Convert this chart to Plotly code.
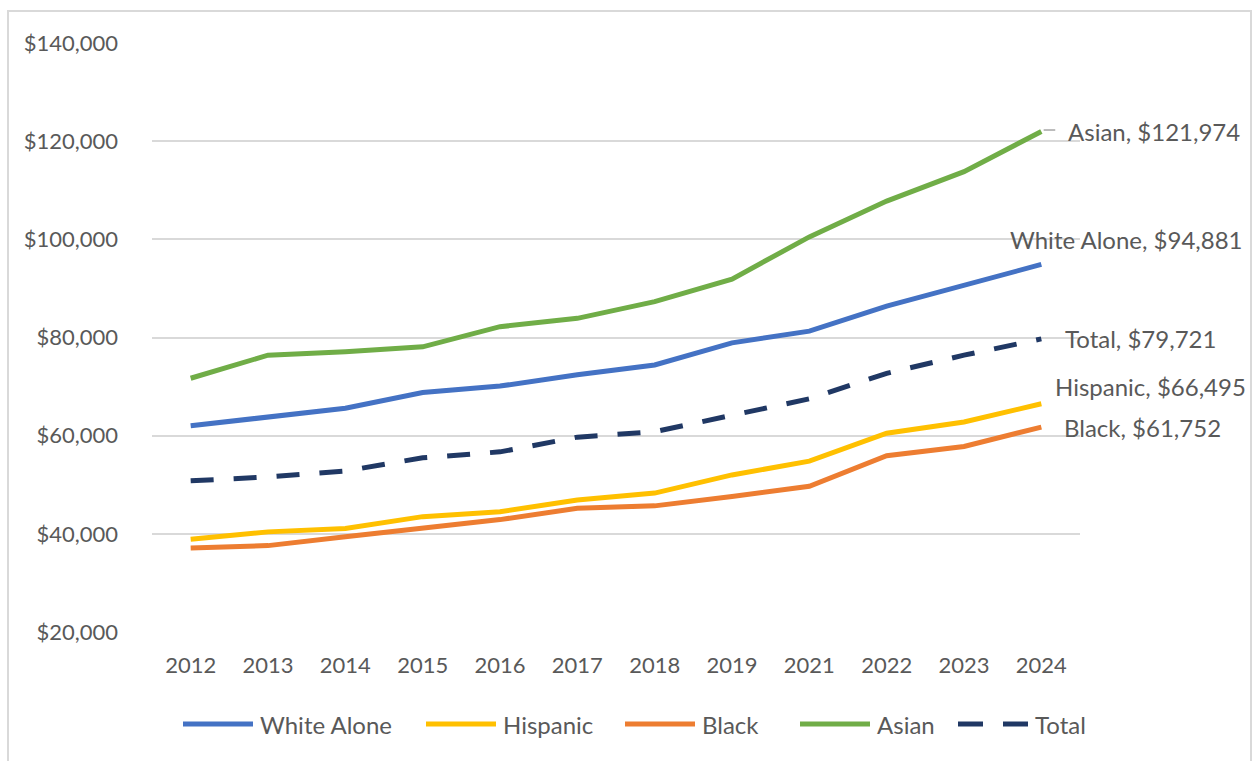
import plotly.graph_objects as go

# Median household income by race/ethnicity, 2012-2024 (no 2020 release)
years = ["2012", "2013", "2014", "2015", "2016", "2017", "2018", "2019",
         "2021", "2022", "2023", "2024"]

white_alone = [62000, 63700, 65600, 68800, 70100, 72400, 74400, 78900,
               81300, 86400, 90700, 94881]
hispanic = [38900, 40400, 41100, 43500, 44500, 46900, 48300, 52000,
            54800, 60500, 62800, 66495]
black = [37100, 37600, 39400, 41100, 42900, 45200, 45700, 47600,
         49700, 55900, 57800, 61752]
asian = [71700, 76400, 77100, 78100, 82200, 83900, 87300, 91900,
         100500, 107800, 113800, 121974]
total = [50800, 51600, 52800, 55500, 56700, 59700, 60800, 64200,
         67500, 72700, 76400, 79721]

series_names = ["White Alone", "Hispanic", "Black", "Asian", "Total"]
series_values = [white_alone, hispanic, black, asian, total]

y_ticks = [20000, 40000, 60000, 80000, 100000, 120000, 140000]

colors = {
    "White Alone": "#4472C4",
    "Hispanic": "#FFC000",
    "Black": "#ED7D31",
    "Asian": "#70AD47",
    "Total": "#203864",
}
dashes = {"Total": "23px,20px"}
legend_dashes = {"Total": "25px,20px"}

FONT = "Lato, 'Open Sans', sans-serif"
TEXT = "#595959"
FS = 22
FS_LABEL = 24

# plot area in pixels
W, H = 1253, 761
L, R, T, B = 152, 173, 43, 129
PW, PH = W - L - R, H - T - B


def px_x(px):
    return (px - L) / PW


def px_y(py):
    return (H - B - py) / PH


fig = go.Figure()
for name, vals in zip(series_names, series_values):
    fig.add_trace(go.Scatter(
        x=years, y=vals, mode="lines", name=name,
        line=dict(color=colors[name], width=5, dash=dashes.get(name, "solid")),
        showlegend=False,
    ))

# end-of-line labels: (xshift, yshift) relative to the last point
label_offsets = {
    "Asian": (25, 0),
    "White Alone": (-33, 25),
    "Total": (22, 0),
    "Hispanic": (12, 17),
    "Black": (21, 0),
}
last_idx = len(years) - 1
annotations = []
for name, vals in zip(series_names, series_values):
    last = vals[-1]
    dx, dy = label_offsets[name]
    annotations.append(dict(
        x=last_idx, y=last, xref="x", yref="y",
        text=f"{name}, ${last:,.0f}",
        xanchor="left", yanchor="middle", xshift=dx, yshift=dy,
        showarrow=False, font=dict(family=FONT, size=FS_LABEL, color=TEXT),
    ))

shapes = []
# short leader line for the Asian label
shapes.append(dict(
    type="line", xref="x", yref="y",
    x0=last_idx + 0.03, x1=last_idx + 0.18,
    y0=asian[-1] + 300, y1=asian[-1] + 300,
    line=dict(color="#A6A6A6", width=1.5),
))

# legend drawn below the axis
legend_starts = [183, 426, 625, 800, 958]
legend_y = 724
seg = 70
for name, sx in zip(series_names, legend_starts):
    shapes.append(dict(
        type="line", xref="paper", yref="paper",
        x0=px_x(sx), x1=px_x(sx + seg), y0=px_y(legend_y), y1=px_y(legend_y),
        line=dict(color=colors[name], width=5,
                  dash=legend_dashes.get(name, "solid")),
    ))
    annotations.append(dict(
        x=px_x(sx + seg + 5), y=px_y(legend_y), xref="paper", yref="paper",
        text=name, xanchor="left", yanchor="middle", showarrow=False,
        font=dict(family=FONT, size=FS_LABEL, color=TEXT),
    ))

# outer chart border
shapes.append(dict(
    type="rect", xref="paper", yref="paper",
    x0=px_x(8), x1=px_x(1251), y0=px_y(762), y1=px_y(11),
    line=dict(color="#D9D9D9", width=2), fillcolor="rgba(0,0,0,0)",
    layer="below",
))

fig.update_layout(
    width=W, height=H,
    margin=dict(l=L, r=R, t=T, b=B),
    paper_bgcolor="white", plot_bgcolor="white",
    font=dict(family=FONT, size=FS, color=TEXT),
    annotations=annotations, shapes=shapes,
    xaxis=dict(
        type="category", range=[-0.5, 11.5], showgrid=False, zeroline=False,
        showline=False, ticks="", tickfont=dict(family=FONT, size=FS, color=TEXT),
        ticklabelstandoff=18,
    ),
    yaxis=dict(
        range=[20000, 140000], tickvals=y_ticks,
        ticktext=[f"${v:,.0f}" for v in y_ticks],
        showgrid=True, gridcolor="#D9D9D9", gridwidth=2, zeroline=False,
        showline=False, ticks="", tickfont=dict(family=FONT, size=FS, color=TEXT),
        ticklabelstandoff=33,
    ),
)

fig.write_html("out.html")
